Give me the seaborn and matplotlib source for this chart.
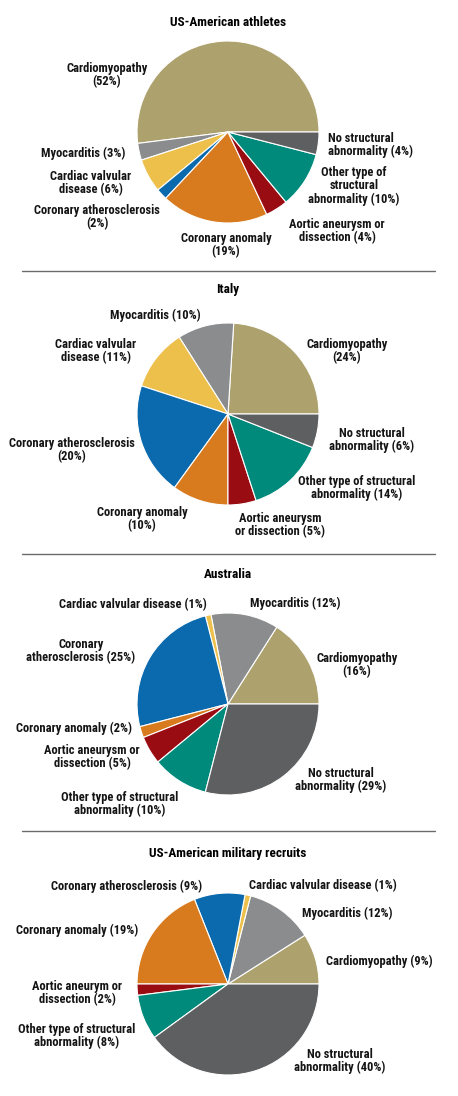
#!/usr/bin/env python3
"""Causes of sudden cardiac death: four pie charts stacked vertically."""

import matplotlib

matplotlib.use("Agg")
import matplotlib.pyplot as plt
import seaborn as sns

sns.set_theme(style="white")
plt.rcParams["font.family"] = ["Roboto Condensed", "DejaVu Sans"]
plt.rcParams["font.stretch"] = "condensed"

# ---------------------------------------------------------------- data
CAUSES = ["Cardiomyopathy", "Myocarditis", "Cardiac valvular disease",
          "Coronary atherosclerosis", "Coronary anomaly",
          "Aortic aneurysm or dissection", "Other type of structural abnormality",
          "No structural abnormality"]

TITLES = ["US-American athletes", "Italy", "Australia",
          "US-American military recruits"]

US_ATHLETES = [52, 3, 6, 2, 19, 4, 10, 4]
ITALY = [24, 10, 11, 20, 10, 5, 14, 6]
AUSTRALIA = [16, 12, 1, 25, 2, 5, 10, 29]
MILITARY = [9, 12, 1, 9, 19, 2, 8, 40]

LABELS_US = ["Cardiomyopathy\n(52%)", "Myocarditis (3%)",
             "Cardiac valvular\ndisease (6%)", "Coronary atherosclerosis\n(2%)",
             "Coronary anomaly\n(19%)", "Aortic aneurysm or\ndissection (4%)",
             "Other type of\nstructural\nabnormality (10%)",
             "No structural\nabnormality (4%)"]
LABELS_IT = ["Cardiomyopathy\n(24%)", "Myocarditis (10%)",
             "Cardiac valvular\ndisease (11%)", "Coronary atherosclerosis\n(20%)",
             "Coronary anomaly\n(10%)", "Aortic aneurysm\nor dissection (5%)",
             "Other type of structural\nabnormality (14%)",
             "No structural\nabnormality (6%)"]
LABELS_AU = ["Cardiomyopathy\n(16%)", "Myocarditis (12%)",
             "Cardiac valvular disease (1%)", "Coronary\natherosclerosis (25%)",
             "Coronary anomaly (2%)", "Aortic aneurysm or\ndissection (5%)",
             "Other type of structural\nabnormality (10%)",
             "No structural\nabnormality (29%)"]
LABELS_MIL = ["Cardiomyopathy (9%)", "Myocarditis (12%)",
              "Cardiac valvular disease (1%)", "Coronary atherosclerosis (9%)",
              "Coronary anomaly (19%)", "Aortic aneurym or\ndissection (2%)",
              "Other type of structural\nabnormality (8%)",
              "No structural\nabnormality (40%)"]

# ---------------------------------------------------------------- layout (pixels)
W, H = 458, 1096
RADIUS = 91
PIE_X = 228
PIE_Y = [132, 414, 704, 984]
TITLE_Y = [22, 290, 574, 853]
RULE_Y = [271, 554, 831]

LABEL_POS = [
    [(107, 75), (83, 153), (91, 183), (97, 217), (226, 245), (337, 231),
     (354, 186), (328, 145, "left")],
    [(347, 351), (155, 315), (96, 351), (72, 450), (142, 519), (280, 525),
     (357, 488), (372, 440)],
    [(357, 665), (295, 603), (133, 605), (81, 651), (74, 728), (92, 757),
     (120, 804), (341, 780)],
    [(379, 961), (347, 913), (323, 886), (127, 886), (77, 930), (77, 993),
     (77, 1036), (340, 1061)],
]

COLORS = ["#ADA26E", "#8B8C8E", "#EDC04C", "#0B6AAD",
          "#D87B1F", "#990D12", "#008A7B", "#5E5F61"]

panels = [(US_ATHLETES, LABELS_US), (ITALY, LABELS_IT),
          (AUSTRALIA, LABELS_AU), (MILITARY, LABELS_MIL)]

fig = plt.figure(figsize=(W / 100, H / 100), dpi=100, facecolor="white")
ax = fig.add_axes([0, 0, 1, 1])

for i, (values, labels) in enumerate(panels):
    ax.pie(values, colors=COLORS, startangle=0, counterclock=True,
           center=(PIE_X, H - PIE_Y[i]), radius=RADIUS, frame=True,
           wedgeprops={"edgecolor": "white", "linewidth": 0.8})
    ax.text(PIE_X, H - TITLE_Y[i], TITLES[i], ha="center", va="center",
            fontsize=9.5, fontweight="bold", color="black")
    for lab, pos in zip(labels, LABEL_POS[i]):
        ha = pos[2] if len(pos) > 2 else "center"
        ax.text(pos[0], H - pos[1], lab, ha=ha, va="center", multialignment=ha,
                fontsize=9, fontweight="bold", color="#141414", linespacing=1.0)

# pie() touches the limits, so set them afterwards
ax.set_xlim(0, W)
ax.set_ylim(0, H)
ax.set_aspect("equal")
ax.axis("off")

for y in RULE_Y:
    ax.plot([22, 435], [H - y, H - y], color="#6b6b6b", linewidth=1.0)

fig.savefig("out.png", dpi=100, facecolor="white")
